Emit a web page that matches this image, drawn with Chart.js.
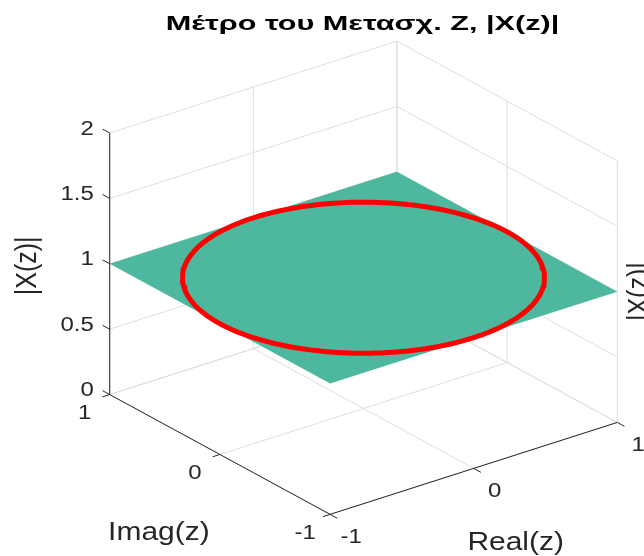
<!DOCTYPE html>
<html>
<head>
<meta charset="utf-8">
<script src="https://cdn.jsdelivr.net/npm/chart.js@4/dist/chart.umd.min.js"></script>
<style>
  html, body { margin: 0; padding: 0; background: #ffffff; }
  canvas { display: block; }
</style>
</head>
<body>
<canvas id="chart" width="644" height="556"></canvas>
<script>
// ---- data ----
const titleText = 'Μέτρο του Μετασχ. Z, |X(z)|';
const realLabel = 'Real(z)';
const imagLabel = 'Imag(z)';
const magLabel = '|X(z)|';

const realTicks = [-1, 0, 1];
const imagTicks = [-1, 0, 1];
const magTicks = [0, 0.5, 1, 1.5, 2];
const realTickLabels = ['-1', '0', '1'];
const imagTickLabels = ['-1', '0', '1'];
const magTickLabels = ['0', '0.5', '1', '1.5', '2'];

// |X(z)| surface over the z-plane grid (rows: imag, columns: real)
const surfReal = [-1, 1];
const surfImag = [-1, 1];
const surfMag = [[1, 1], [1, 1]];

// |X(z)| along the unit circle z = e^{jw}
const unitCircleMag = 1;

// ---- 3-D view (azimuth / elevation, like a default 3-D axes) ----
const AZ = -37.5 * Math.PI / 180;
const EL = 30 * Math.PI / 180;
function project(x, y, z) {
  const u = x * Math.cos(AZ) + y * Math.sin(AZ);
  const v = z * Math.cos(EL) + (y * Math.cos(AZ) - x * Math.sin(AZ)) * Math.sin(EL);
  return { x: u, y: v };
}

// canvas layout of the view plane
const W = 644, H = 556;
const viewOrigin = { x: 363.5, y: 408.5 };   // pixel of (0,0,0)
const pxPerUnit = { x: 181, y: 151 };
const stretchX = pxPerUnit.x / pxPerUnit.y; // horizontal stretch of the figure
const titleStretch = 1.46;
const xRange = { min: -viewOrigin.x / pxPerUnit.x, max: (W - viewOrigin.x) / pxPerUnit.x };
const yRange = { min: (viewOrigin.y - H) / pxPerUnit.y, max: viewOrigin.y / pxPerUnit.y };

const FONT = '"Liberation Sans", Arial, Helvetica, sans-serif';
const TEXT = '#262626';
const GRID = '#dedede';
const AXIS = '#262626';
const SURF = '#4db89d';
const RED = '#ff0000';

const rMin = Math.min(...realTicks), rMax = Math.max(...realTicks);
const iMin = Math.min(...imagTicks), iMax = Math.max(...imagTicks);
const zMin = Math.min(...magTicks), zMax = Math.max(...magTicks);

const datasets = [];
function polyline(points3d, color, width, order, extra) {
  datasets.push(Object.assign({
    data: points3d.map(p => project(p[0], p[1], p[2])),
    showLine: true,
    borderColor: color,
    borderWidth: width,
    pointRadius: 0,
    pointHoverRadius: 0,
    fill: false,
    tension: 0,
    order: order
  }, extra || {}));
}

// grid on the back walls and the floor
magTicks.forEach(z => {
  polyline([[rMin, iMax, z], [rMax, iMax, z]], GRID, 1, 10);
  polyline([[rMax, iMin, z], [rMax, iMax, z]], GRID, 1, 10);
});
realTicks.forEach(r => {
  polyline([[r, iMax, zMin], [r, iMax, zMax]], GRID, 1, 10);
  polyline([[r, iMin, zMin], [r, iMax, zMin]], GRID, 1, 10);
});
imagTicks.forEach(i => {
  polyline([[rMax, i, zMin], [rMax, i, zMax]], GRID, 1, 10);
  polyline([[rMin, i, zMin], [rMax, i, zMin]], GRID, 1, 10);
});

// |X(z)| surface patch
const surfPoly = [
  [surfReal[0], surfImag[0], surfMag[0][0]],
  [surfReal[1], surfImag[0], surfMag[0][1]],
  [surfReal[1], surfImag[1], surfMag[1][1]],
  [surfReal[0], surfImag[1], surfMag[1][0]],
  [surfReal[0], surfImag[0], surfMag[0][0]]
];
polyline(surfPoly, 'rgba(0,0,0,0)', 1, 8, { fill: 'shape', backgroundColor: SURF });

// unit circle lifted to |X(z)|
const circle = [];
for (let d = 0; d <= 360; d += 2) {
  const w = d * Math.PI / 180;
  circle.push([Math.cos(w), Math.sin(w), unitCircleMag]);
}
polyline(circle, RED, 5, 6, { borderJoinStyle: 'round' });

// axes lines
polyline([[rMin, iMax, zMin], [rMin, iMax, zMax]], AXIS, 1, 2);
polyline([[rMin, iMin, zMin], [rMin, iMax, zMin]], AXIS, 1, 2);
polyline([[rMin, iMin, zMin], [rMax, iMin, zMin]], AXIS, 1, 2);
// tick marks
const tickLen = { real: 0.05, imag: 0.065 };
magTicks.forEach(z => polyline([[rMin, iMax, z], [rMin, iMax + tickLen.imag, z]], AXIS, 1, 2));
imagTicks.forEach(i => polyline([[rMin, i, zMin], [rMin - tickLen.real, i, zMin]], AXIS, 1, 2));
realTicks.forEach(r => polyline([[r, iMin, zMin], [r, iMin - tickLen.imag, zMin]], AXIS, 1, 2));

// ---- text ----
function stretchedText(ctx, text, x, y, o) {
  ctx.save();
  ctx.translate(x, y);
  ctx.scale(o.stretch || stretchX, 1);
  if (o.rotate) ctx.rotate(o.rotate);
  ctx.font = o.font;
  ctx.fillStyle = o.color || TEXT;
  ctx.textAlign = o.align || 'center';
  ctx.textBaseline = o.baseline || 'middle';
  ctx.fillText(text, 0, 0);
  ctx.restore();
}

const textPlugin = {
  id: 'axesText',
  afterDatasetsDraw(chart) {
    const ctx = chart.ctx;
    const sx = chart.scales.x, sy = chart.scales.y;
    const px = (x, y, z) => {
      const p = project(x, y, z);
      return { x: sx.getPixelForValue(p.x), y: sy.getPixelForValue(p.y) };
    };
    const tickFont = '20px ' + FONT;
    const labelFont = '25px ' + FONT;

    // title
    const c = px(0, 0, 0);
    stretchedText(ctx, titleText, c.x - 1, 30, {
      font: 'bold 21px ' + FONT, color: '#000000', baseline: 'alphabetic', stretch: titleStretch
    });

    // |X(z)| ticks
    magTicks.forEach((z, k) => {
      const p = px(rMin, iMax, z);
      stretchedText(ctx, magTickLabels[k], p.x - 16, p.y - 4, { font: tickFont, align: 'right' });
    });
    // Imag ticks
    imagTicks.forEach((i, k) => {
      const p = px(rMin, i, zMin);
      stretchedText(ctx, imagTickLabels[k], p.x - 25, p.y + 19, { font: tickFont });
    });
    // Real ticks
    realTicks.forEach((r, k) => {
      const p = px(r, iMin, zMin);
      stretchedText(ctx, realTickLabels[k], p.x + 21, p.y + 23, { font: tickFont });
    });

    // axis titles
    const im = px(rMin, 0, zMin);
    stretchedText(ctx, imagLabel, im.x - 61, im.y + 79, { font: labelFont });
    const re = px(0, iMin, zMin);
    stretchedText(ctx, realLabel, re.x + 42, re.y + 75, { font: labelFont });
    const zl = px(rMin, iMax, 1);
    stretchedText(ctx, magLabel, zl.x - 82, zl.y + 2, { font: labelFont, rotate: -Math.PI / 2 });
    const zr = px(rMax, iMin, 1);
    stretchedText(ctx, magLabel, zr.x + 22, zr.y, { font: labelFont, rotate: -Math.PI / 2 });
  }
};

new Chart(document.getElementById('chart'), {
  type: 'scatter',
  data: { datasets: datasets },
  options: {
    responsive: false,
    animation: false,
    devicePixelRatio: 1,
    events: [],
    layout: { padding: 0 },
    plugins: {
      legend: { display: false },
      tooltip: { enabled: false },
      title: { display: false }
    },
    scales: {
      x: { type: 'linear', min: xRange.min, max: xRange.max, display: false },
      y: { type: 'linear', min: yRange.min, max: yRange.max, display: false }
    }
  },
  plugins: [textPlugin]
});
</script>
</body>
</html>
